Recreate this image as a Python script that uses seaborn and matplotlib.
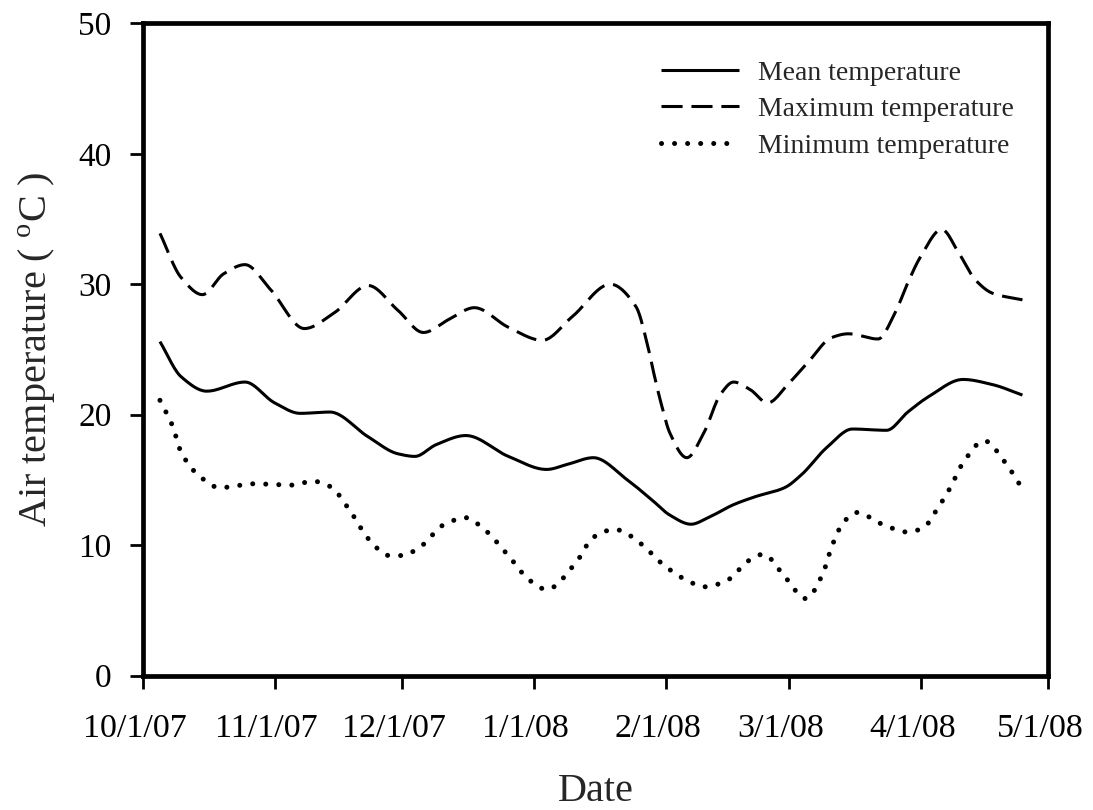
import numpy as np
import pandas as pd
import matplotlib
matplotlib.use("Agg")
import matplotlib.pyplot as plt
import matplotlib.dates as mdates
from matplotlib.transforms import ScaledTranslation
import seaborn as sns

# Daily air temperature records, Oct 2007 - Apr 2008
max_dates = ["2007-10-05", "2007-10-10", "2007-10-15", "2007-10-20", "2007-10-25",
             "2007-10-31", "2007-11-08", "2007-11-15", "2007-11-23", "2007-11-30",
             "2007-12-06", "2007-12-12", "2007-12-18", "2007-12-26", "2008-01-03",
             "2008-01-10", "2008-01-19", "2008-01-25", "2008-01-28", "2008-01-29",
             "2008-01-31", "2008-02-02", "2008-02-06", "2008-02-10", "2008-02-14",
             "2008-02-17", "2008-02-21", "2008-02-25", "2008-03-01", "2008-03-06",
             "2008-03-11", "2008-03-15", "2008-03-22", "2008-03-26", "2008-03-29",
             "2008-04-01", "2008-04-06", "2008-04-10", "2008-04-14", "2008-04-18",
             "2008-04-25"]
max_temp = [33.9, 30.5, 29.2, 30.8, 31.5,
            29.6, 26.6, 27.8, 29.9, 28.0,
            26.3, 27.3, 28.2, 26.7, 25.7,
            27.5, 30.0, 28.3, 25.0, 23.5,
            20.8, 18.6, 16.7, 18.6, 21.6,
            22.5, 21.9, 20.9, 22.4, 24.2,
            25.9, 26.2, 25.8, 27.8, 30.1,
            32.1, 34.2, 32.4, 30.3, 29.3,
            28.8]

mean_dates = ["2007-10-05", "2007-10-10", "2007-10-16", "2007-10-25", "2007-11-01",
              "2007-11-07", "2007-11-14", "2007-11-23", "2007-11-30", "2007-12-04",
              "2007-12-09", "2007-12-16", "2007-12-26", "2008-01-04", "2008-01-09",
              "2008-01-15", "2008-01-23", "2008-01-29", "2008-02-02", "2008-02-07",
              "2008-02-11", "2008-02-17", "2008-02-22", "2008-02-29", "2008-03-04",
              "2008-03-10", "2008-03-16", "2008-03-24", "2008-03-29", "2008-04-03",
              "2008-04-11", "2008-04-18", "2008-04-25"]
mean_temp = [25.6, 22.9, 21.8, 22.5, 20.9,
             20.1, 20.2, 18.3, 17.0, 16.8,
             17.7, 18.4, 16.8, 15.8, 16.2,
             16.7, 15.0, 13.4, 12.3, 11.6,
             12.1, 13.1, 13.7, 14.4, 15.4,
             17.5, 18.9, 18.8, 20.2, 21.4,
             22.7, 22.3, 21.5]

min_dates = ["2007-10-05", "2007-10-08", "2007-10-10", "2007-10-15", "2007-10-19",
             "2007-10-27", "2007-11-05", "2007-11-10", "2007-11-14", "2007-11-19",
             "2007-11-23", "2007-11-28", "2007-12-01", "2007-12-05", "2007-12-11",
             "2007-12-16", "2007-12-20", "2007-12-26", "2007-12-31", "2008-01-04",
             "2008-01-11", "2008-01-15", "2008-01-20", "2008-01-27", "2008-01-30",
             "2008-02-06", "2008-02-10", "2008-02-15", "2008-02-21", "2008-02-24",
             "2008-02-29", "2008-03-05", "2008-03-09", "2008-03-11", "2008-03-14",
             "2008-03-17", "2008-03-23", "2008-03-29", "2008-04-02", "2008-04-04",
             "2008-04-08", "2008-04-11", "2008-04-16", "2008-04-21", "2008-04-25"]
min_temp = [21.1, 19.1, 17.1, 15.1, 14.4,
            14.7, 14.6, 14.9, 14.5, 12.5,
            10.5, 9.2, 9.2, 9.8, 11.6,
            12.1, 11.3, 9.2, 7.3, 6.6,
            8.7, 10.6, 11.2, 9.9, 8.9,
            7.3, 6.8, 7.2, 8.9, 9.3,
            7.6, 5.9, 7.8, 9.8, 11.8,
            12.5, 11.6, 11.0, 11.4, 12.3,
            14.4, 16.3, 18.0, 16.3, 14.3]

tick_dates = ["2007-10-01", "2007-11-01", "2007-12-01", "2008-01-01",
              "2008-02-01", "2008-03-01", "2008-04-01", "2008-05-01"]
tick_labels = ["10/1/07", "11/1/07", "12/1/07", "1/1/08",
               "2/1/08", "3/1/08", "4/1/08", "5/1/08"]
y_ticks = [0, 10, 20, 30, 40, 50]


def smooth_curve(dates, values, samples=600):
    """Shape-preserving (PCHIP) curve through the records, for a smooth line."""
    x = mdates.date2num(pd.to_datetime(dates))
    y = np.asarray(values, dtype=float)
    h = np.diff(x)
    delta = np.diff(y) / h
    n = len(x)
    d = np.zeros(n)
    for k in range(1, n - 1):
        if delta[k - 1] * delta[k] > 0:
            w1 = 2 * h[k] + h[k - 1]
            w2 = h[k] + 2 * h[k - 1]
            d[k] = (w1 + w2) / (w1 / delta[k - 1] + w2 / delta[k])
    d[0] = delta[0]
    d[-1] = delta[-1]
    xs = np.linspace(x[0], x[-1], samples)
    idx = np.clip(np.searchsorted(x, xs) - 1, 0, n - 2)
    t = (xs - x[idx]) / h[idx]
    h00 = 2 * t**3 - 3 * t**2 + 1
    h10 = t**3 - 2 * t**2 + t
    h01 = -2 * t**3 + 3 * t**2
    h11 = t**3 - t**2
    ys = (h00 * y[idx] + h10 * h[idx] * d[idx]
          + h01 * y[idx + 1] + h11 * h[idx] * d[idx + 1])
    return pd.DataFrame({"date": mdates.num2date(xs), "temp": ys})


sns.set_theme(style="ticks")
plt.rcParams["font.family"] = ["Liberation Serif", "DejaVu Serif"]
plt.rcParams["mathtext.fontset"] = "custom"
plt.rcParams["mathtext.rm"] = "Liberation Serif"

fig = plt.figure(figsize=(10.93, 8.10), dpi=100)
ax = fig.add_axes([0.1308, 0.1660, 0.8280, 0.8052])

series = [
    ("Mean temperature", mean_dates, mean_temp, dict(lw=2.2, linestyle="-")),
    ("Maximum temperature", max_dates, max_temp, dict(lw=2.2, linestyle=(0, (6.9, 2.9)))),
    ("Minimum temperature", min_dates, min_temp, dict(lw=3.6, linestyle=(0, (0.01, 2.6)))),
]

handles = []
for name, dates, vals, style in series:
    df = smooth_curve(dates, vals)
    sns.lineplot(data=df, x="date", y="temp", ax=ax, color="black",
                 label=name, sort=False, estimator=None, **style)
    line = ax.lines[-1]
    line.set_dash_capstyle("round" if name.startswith("Minimum") else "butt")
    line.set_solid_capstyle("butt")
    line.set_solid_joinstyle("round")
    handles.append(line)

ax.set_xlim(pd.Timestamp(tick_dates[0]), pd.Timestamp(tick_dates[-1]))
ax.set_ylim(0, 50)
ax.set_xticks(pd.to_datetime(tick_dates))
ax.set_xticklabels(tick_labels)
ax.set_yticks(y_ticks)

for sp in ax.spines.values():
    sp.set_visible(True)
    sp.set_linewidth(3.4)
    sp.set_color("black")

ax.tick_params(axis="both", direction="out", length=9.5, width=2.0,
               labelsize=24, colors="black")
ax.tick_params(axis="y", pad=13)
ax.tick_params(axis="x", pad=18, labelsize=24.5)

# date labels sit slightly left of their ticks
shift = ScaledTranslation(-0.08, 0, fig.dpi_scale_trans)
for lab in ax.get_xticklabels():
    lab.set_transform(lab.get_transform() + shift)

ax.set_xlabel("Date", fontsize=29, labelpad=21)
ax.set_ylabel("Air temperature ( $^{\\mathrm{o}}$C )", fontsize=29, labelpad=15)

leg = ax.legend(handles=handles,
                labels=[s[0] for s in series],
                loc="upper right", bbox_to_anchor=(0.99, 0.982),
                frameon=False, fontsize=20, handlelength=2.8,
                handletextpad=0.7, labelspacing=0.4)

fig.savefig("out.png", dpi=100, facecolor="white")
